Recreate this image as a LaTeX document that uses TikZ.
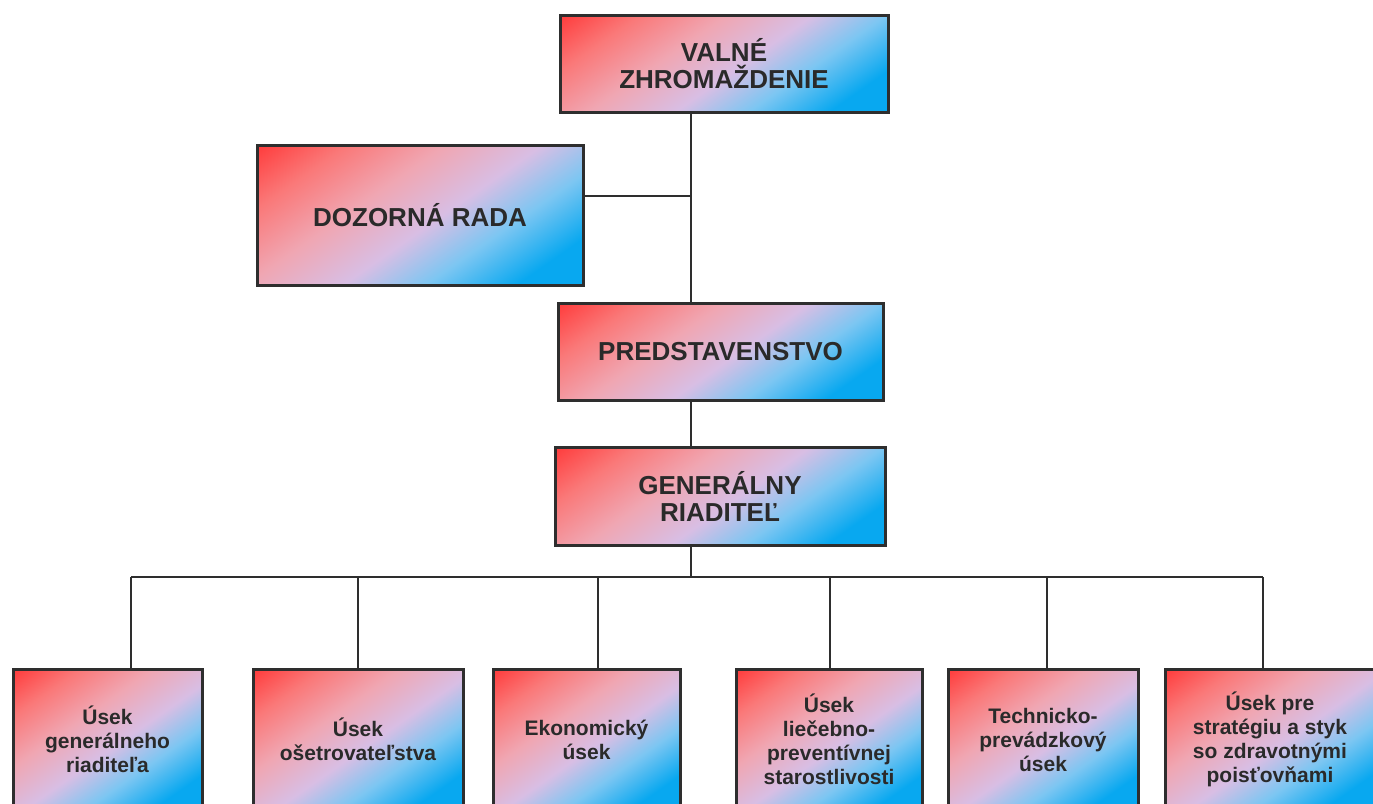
\documentclass[tikz,border=0pt]{standalone}
\usepackage{fontspec}
\setmainfont{Liberation Sans}
\usepackage{tikz}

\definecolor{boxred}{HTML}{FF3A3A}
\definecolor{boxsalmon}{HTML}{FA7878}
\definecolor{boxpink}{HTML}{F0A6B2}
\definecolor{boxlav}{HTML}{D8BEE4}
\definecolor{boxsky}{HTML}{7CC6F2}
\definecolor{boxblue}{HTML}{08A8F0}
\definecolor{boxline}{HTML}{2E2E2E}
\definecolor{boxtext}{HTML}{2A2A2A}

\pgfdeclareverticalshading{boxgrad}{100bp}{color(0bp)=(boxblue); color(24bp)=(boxblue); color(36bp)=(boxsky); color(47bp)=(boxlav); color(60bp)=(boxpink); color(73bp)=(boxsalmon); color(85bp)=(boxred); color(100bp)=(boxred)}

\begin{document}
\begin{tikzpicture}[x=0.5pt, y=-0.5pt,
  box/.style={draw=boxline, line width=1.5pt, shading=boxgrad, shading angle=#1,
    inner sep=0pt, align=center, text=boxtext, font=\bfseries\fontsize{13}{13.5}\selectfont},
  box/.default=35,
  unit/.style={box=35, anchor=north, minimum height=70pt, font=\bfseries\fontsize{10.5}{12}\selectfont},
  conn/.style={draw=boxline, line width=1pt}]
  \useasboundingbox (0,0) rectangle (1373,804);
  \clip (0,0) rectangle (1373,804);

  \node (valne) [box, minimum width=164pt, minimum height=48.5pt] at (724,63.5) {VALNÉ\\ZHROMAŽDENIE};
  \node (dozorna) [box, minimum width=163pt, minimum height=70pt] at (420,215) {DOZORNÁ RADA};
  \node (predst) [box, minimum width=162.5pt, minimum height=48.5pt] at (720.5,351.5) {PREDSTAVENSTVO};
  \node (general) [box, minimum width=165pt, minimum height=49pt] at (720,496) {GENERÁLNY\\RIADITEĽ};

  \node (u1) [unit, minimum width=94.5pt] at (107.5,668) {Úsek\\generálneho\\riaditeľa};
  \node (u2) [unit, minimum width=105pt] at (358,668) {Úsek\\ošetrovateľstva};
  \node (u3) [unit, minimum width=93.5pt] at (586.5,668) {Ekonomický\\úsek};
  \node (u4) [unit, minimum width=93pt] at (829,668) {Úsek\\liečebno-\\preventívnej\\starostlivosti};
  \node (u5) [unit, minimum width=95pt] at (1043,668) {Technicko-\\prevádzkový\\úsek};
  \node (u6) [unit, minimum width=105pt] at (1270,668) {Úsek pre\\stratégiu a styk\\so zdravotnými\\poisťovňami};

  \coordinate (trunk) at (691,196);
  \coordinate (bus) at (691,577);
  \draw [conn] (trunk |- valne.south) -- (trunk |- predst.north);
  \draw [conn] (trunk) -- (trunk -| dozorna.east);
  \draw [conn] (trunk |- predst.south) -- (trunk |- general.north);
  \draw [conn] (bus |- general.south) -- (bus);
  \foreach \i/\x in {1/131, 2/358, 3/598, 4/830, 5/1047, 6/1263} {
    \coordinate (d\i) at (\x,577);
    \draw [conn] (d\i) -- (d\i |- u\i.north);
  }
  \draw [conn] (d1) -- (d6);
\end{tikzpicture}
\end{document}
